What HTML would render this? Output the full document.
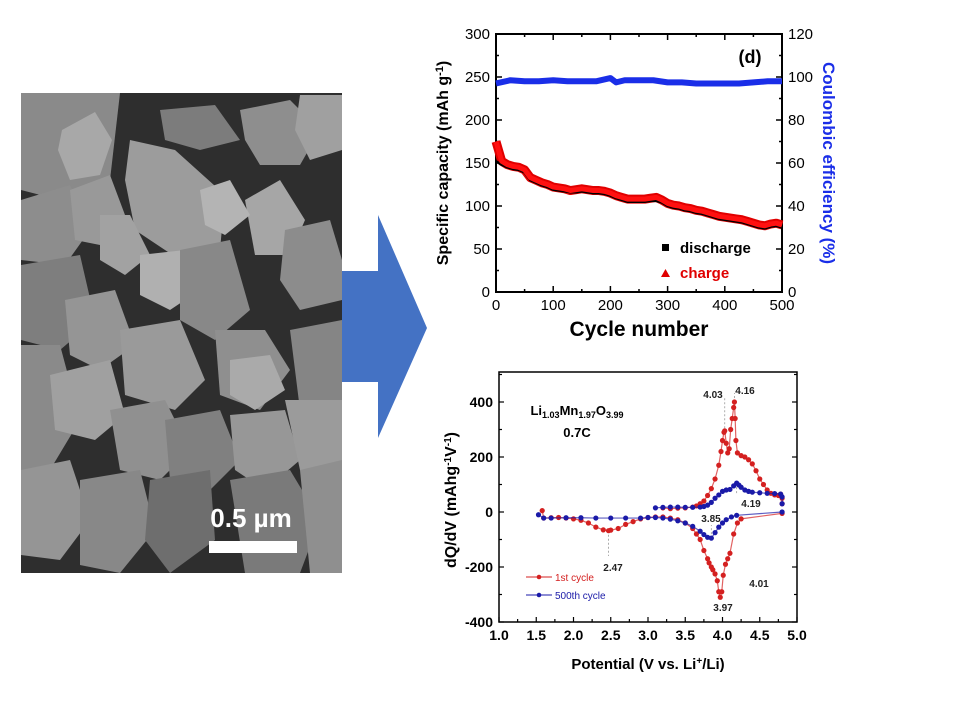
<!DOCTYPE html>
<html><head><meta charset="utf-8">
<style>
html,body{margin:0;padding:0;background:#fff;}
svg{display:block;font-family:"Liberation Sans",Arial,sans-serif;}
</style></head>
<body>
<svg id="root" width="960" height="720" viewBox="0 0 960 720">
  <rect width="960" height="720" fill="#fff"/>
  <g>
    <clipPath id="semclip"><rect x="21" y="93" width="321" height="480"/></clipPath>
    <g clip-path="url(#semclip)">
      <rect x="21" y="93" width="321" height="480" fill="#2e2e2e"/>
      <polygon points="21,93 120,93 110,180 60,200 21,190" fill="#8a8a8a"/>
      <polygon points="62,130 95,112 112,140 100,175 70,180 58,150" fill="#a8a8a8"/>
      <polygon points="130,140 175,150 225,195 220,250 180,260 135,230 125,180" fill="#9c9c9c"/>
      <polygon points="160,110 215,105 240,140 200,150 165,140" fill="#7c7c7c"/>
      <polygon points="240,110 290,100 320,130 300,165 260,165 245,140" fill="#8e8e8e"/>
      <polygon points="300,95 342,95 342,150 310,160 295,130" fill="#a0a0a0"/>
      <polygon points="21,200 70,185 90,230 65,265 21,260" fill="#8d8d8d"/>
      <polygon points="70,190 110,175 125,215 100,245 75,240" fill="#999"/>
      <polygon points="100,215 130,215 150,255 125,275 100,260" fill="#a2a2a2"/>
      <polygon points="140,255 185,250 200,290 170,310 140,295" fill="#b0b0b0"/>
      <polygon points="180,250 230,240 250,310 215,340 180,320" fill="#888"/>
      <polygon points="245,200 280,180 305,220 290,255 255,255" fill="#a6a6a6"/>
      <polygon points="285,230 330,220 342,260 342,300 300,310 280,280" fill="#8c8c8c"/>
      <polygon points="21,265 80,255 95,320 60,350 21,340" fill="#7e7e7e"/>
      <polygon points="65,300 115,290 135,345 100,370 70,355" fill="#959595"/>
      <polygon points="120,330 180,320 205,380 175,410 125,395" fill="#9a9a9a"/>
      <polygon points="215,330 265,330 290,370 260,410 220,395" fill="#8f8f8f"/>
      <polygon points="230,360 270,355 285,390 255,410 230,395" fill="#aaa"/>
      <polygon points="290,330 342,320 342,400 300,410" fill="#858585"/>
      <polygon points="21,345 60,345 80,420 50,470 21,470" fill="#8a8a8a"/>
      <polygon points="50,375 110,360 125,415 95,440 55,430" fill="#a0a0a0"/>
      <polygon points="110,410 165,400 190,450 160,480 120,470" fill="#909090"/>
      <polygon points="165,420 220,410 240,460 210,490 170,480" fill="#808080"/>
      <polygon points="230,415 285,410 300,460 265,490 235,470" fill="#979797"/>
      <polygon points="285,400 342,400 342,480 300,470" fill="#9b9b9b"/>
      <polygon points="21,470 70,460 90,520 60,560 21,555" fill="#959595"/>
      <polygon points="80,480 140,470 155,530 120,573 80,565" fill="#888"/>
      <polygon points="150,480 210,470 215,540 170,573 145,540" fill="#6e6e6e"/>
      <polygon points="230,480 290,470 320,520 300,573 245,573" fill="#7a7a7a"/>
      <polygon points="300,470 342,460 342,573 310,573" fill="#8f8f8f"/>
      <polygon points="200,190 230,180 250,215 225,235 205,225" fill="#b4b4b4"/>
    </g>
    <text x="251" y="527" text-anchor="middle" font-size="26" font-weight="bold" fill="#fff">0.5 µm</text>
    <rect x="209" y="541" width="88" height="12" fill="#fff"/>
  </g>
  <polygon points="342,271 378,271 378,215 427,328 378,438 378,382 342,382" fill="#4472C4"/>

  <g id="top"></g>
  <g id="bot"></g>
</svg>
<script>
// ---------- Top chart data ----------
const cycles = [0,10,20,30,40,50,60,70,80,90,100,110,120,130,140,150,160,170,180,190,200,210,220,230,240,250,260,270,280,290,300,310,320,330,340,350,360,370,380,390,400,410,420,430,440,450,460,470,480,490,500];
const chargeCap = [175,152,148,146,145,142,133,130,127,125,122,121,120,118,119,120,119,118,118,117,115,112,110,108,108,108,108,109,110,107,103,101,100,98,97,95,94,92,90,88,87,86,85,84,82,80,78,77,79,80,78];
const dischargeCap = [152,148,145,143,142,139,130,127,124,122,119,118,117,116,116,117,116,115,115,114,112,109,107,105,105,105,105,106,106,104,100,98,97,95,94,92,91,89,87,85,84,83,82,81,79,77,75,74,76,77,75];
const ceCycles = [0,25,50,75,100,125,150,175,200,210,225,250,275,300,325,350,375,400,425,450,475,500];
const ceValues = [97,98.5,98,98,98.5,98,98,98,99.5,97.5,98.5,98.5,98.5,97.5,97.5,97,97,97,97,97.5,98,98];
const topXTicks = [0,100,200,300,400,500];
const topYTicks = [0,50,100,150,200,250,300];
const topY2Ticks = [0,20,40,60,80,100,120];

// ---------- Bottom chart data ----------
const c1ChargeV = [3.2,3.3,3.4,3.5,3.6,3.65,3.7,3.75,3.8,3.85,3.9,3.95,3.98,4.0,4.02,4.03,4.05,4.07,4.09,4.11,4.13,4.15,4.16,4.17,4.18,4.2,4.25,4.3,4.35,4.4,4.45,4.5,4.55,4.6,4.65,4.7,4.75,4.78,4.8,4.8];
const c1ChargeQ = [15,12,14,15,18,22,30,40,60,85,120,170,220,260,290,295,250,215,230,300,340,380,400,340,260,215,205,200,190,175,150,120,100,80,68,62,60,65,50,30];
const c1DischV = [4.8,4.25,4.2,4.15,4.1,4.07,4.04,4.01,3.99,3.97,3.95,3.93,3.9,3.87,3.85,3.82,3.8,3.75,3.7,3.65,3.6,3.5,3.4,3.3,3.2,3.1,3.0,2.9,2.8,2.7,2.6,2.5,2.47,2.4,2.3,2.2,2.1,2.0,1.9,1.8,1.7,1.6,1.58];
const c1DischQ = [-5,-25,-40,-80,-150,-170,-190,-230,-290,-310,-290,-250,-225,-210,-200,-185,-170,-140,-100,-80,-60,-40,-28,-22,-18,-18,-20,-25,-35,-45,-60,-66,-68,-65,-55,-40,-30,-25,-22,-20,-21,-22,5];
const c500ChargeV = [3.1,3.2,3.3,3.4,3.5,3.6,3.7,3.75,3.8,3.85,3.9,3.95,4.0,4.05,4.1,4.15,4.19,4.22,4.25,4.3,4.35,4.4,4.5,4.6,4.7,4.78,4.8,4.8];
const c500ChargeQ = [15,17,18,18,17,17,18,20,25,35,50,62,75,80,82,95,105,98,90,80,75,72,70,68,67,65,55,30];
const c500DischV = [4.8,4.19,4.12,4.05,4.0,3.95,3.9,3.85,3.8,3.75,3.7,3.6,3.5,3.4,3.3,3.2,3.1,3.0,2.9,2.7,2.5,2.3,2.1,1.9,1.7,1.6,1.53];
const c500DischQ = [0,-12,-18,-28,-40,-55,-75,-95,-92,-82,-70,-52,-40,-32,-26,-22,-20,-20,-22,-22,-22,-22,-21,-21,-22,-22,-10];
const botXTicks = [1.0,1.5,2.0,2.5,3.0,3.5,4.0,4.5,5.0];
const botYTicks = [-400,-200,0,200,400];
const peakLabels = ["4.03","4.16","4.19","3.85","2.47","4.01","3.97"];
const peakV = [4.03,4.16,4.19,3.85,2.47,4.01,3.97];

const NS = "http://www.w3.org/2000/svg";
function mk(parent, tag, attrs, text){
  const e = document.createElementNS(NS, tag);
  for (const k in attrs) e.setAttribute(k, attrs[k]);
  if (text !== undefined) e.textContent = text;
  parent.appendChild(e);
  return e;
}

// ===== TOP CHART =====
(function(){
  const g = document.getElementById('top');
  const L=496,R=782,T=34,B=292;
  const sx = v => L + (v-0)/500*(R-L);
  const sy = v => B - v/300*(B-T);
  const sy2 = v => B - v/120*(B-T);
  const frame = mk(g,'rect',{x:L,y:T,width:R-L,height:B-T,fill:'none',stroke:'#000','stroke-width':2});
  
  
  for (let v=0; v<=500; v+=50){
    const len = v%100===0?6:3;
    mk(g,'line',{x1:sx(v),x2:sx(v),y1:B,y2:B-len,stroke:'#000','stroke-width':1.5});
    mk(g,'line',{x1:sx(v),x2:sx(v),y1:T,y2:T+len,stroke:'#000','stroke-width':1.5});
  }
  for (let v=0; v<=300; v+=25){
    const len = v%50===0?6:3;
    mk(g,'line',{x1:L,x2:L+len,y1:sy(v),y2:sy(v),stroke:'#000','stroke-width':1.5});
  }
  for (let v=0; v<=120; v+=10){
    const len = v%20===0?6:3;
    mk(g,'line',{x1:R,x2:R-len,y1:sy2(v),y2:sy2(v),stroke:'#000','stroke-width':1.5});
  }
  topXTicks.forEach(v=>{
    const t = mk(g,'text',{x:sx(v),y:B+18,'text-anchor':'middle','font-size':15,fill:'#000'},String(v));
    
    
  });
  topYTicks.forEach(v=>{
    const t = mk(g,'text',{x:L-6,y:sy(v)+5,'text-anchor':'end','font-size':15,fill:'#000'},String(v));
    
    
  });
  topY2Ticks.forEach(v=>{
    const t = mk(g,'text',{x:R+6,y:sy2(v)+5,'text-anchor':'start','font-size':15,fill:'#000'},String(v));
    
    
  });
  const pts = (xs,ys,fx,fy)=>xs.map((x,i)=>fx(x)+','+fy(ys[i])).join(' ');
  const ch = mk(g,'polyline',{points:pts(cycles,chargeCap,sx,sy),fill:'none',stroke:'#e00000','stroke-width':9,'stroke-linejoin':'round'});
  
  
  const dc = mk(g,'polyline',{points:pts(cycles,dischargeCap,sx,sy),fill:'none',stroke:'#000','stroke-width':2.5});
  
  
  const ch2 = mk(g,'polyline',{points:pts(cycles,chargeCap,sx,sy),fill:'none',stroke:'#ff1010','stroke-width':5,'stroke-linejoin':'round'});
  
  
  const ce = mk(g,'polyline',{points:pts(ceCycles,ceValues,sx,sy2),fill:'none',stroke:'#1a2ee8','stroke-width':6,'stroke-linejoin':'round'});
  
  
  const d = mk(g,'text',{x:750,y:63,'text-anchor':'middle','font-size':18,'font-weight':'bold'},'(d)');
  
  
  const sq = mk(g,'rect',{x:662,y:244,width:7,height:7,fill:'#000'});
  
  
  const lt1 = mk(g,'text',{x:680,y:253,'font-size':15,'font-weight':'bold',fill:'#000'},'discharge');
  
  
  const tri = mk(g,'polygon',{points:'661,277 665.5,269 670,277',fill:'#e00000'});
  
  
  const lt2 = mk(g,'text',{x:680,y:278,'font-size':15,'font-weight':'bold',fill:'#e00000'},'charge');
  
  
  const xt = mk(g,'text',{x:(L+R)/2,y:336,'text-anchor':'middle','font-size':21,'font-weight':'bold'},'Cycle number');
  
  
  const yt = mk(g,'text',{transform:'translate(448,163) rotate(-90)','text-anchor':'middle','font-size':16,'font-weight':'bold'});
  
  
  yt.innerHTML = 'Specific capacity (mAh g<tspan dy="-5" font-size="11">-1</tspan><tspan dy="5">)</tspan>';
  const y2 = mk(g,'text',{transform:'translate(823,163) rotate(90)','text-anchor':'middle','font-size':17,'font-weight':'bold',fill:'#1a2ee8'},'Coulombic efficiency (%)');
  
  
})();

// ===== BOTTOM CHART =====
(function(){
  const g = document.getElementById('bot');
  const L=499,R=797,T=372,B=622;
  const sx = v => L + (v-1)/4*(R-L);
  const sy = v => 512 - v*(110/400);
  const frame = mk(g,'rect',{x:L,y:T,width:R-L,height:B-T,fill:'none',stroke:'#000','stroke-width':1.5});
  
  
  for (let v=1; v<=5.001; v+=0.25){
    const major = Math.abs(v*2-Math.round(v*2))<1e-6;
    const len = major?5:3;
    mk(g,'line',{x1:sx(v),x2:sx(v),y1:B,y2:B-len,stroke:'#000','stroke-width':1.2});
  }
  for (let v=-400; v<=500; v+=100){
    const len = v%200===0?5:3;
    mk(g,'line',{x1:L,x2:L+len,y1:sy(v),y2:sy(v),stroke:'#000','stroke-width':1.2});
    mk(g,'line',{x1:R,x2:R-len,y1:sy(v),y2:sy(v),stroke:'#000','stroke-width':1.2});
  }
  botXTicks.forEach(v=>{
    const t = mk(g,'text',{x:sx(v),y:B+18,'text-anchor':'middle','font-size':14,'font-weight':'bold'},v.toFixed(1));
    
    
  });
  botYTicks.forEach(v=>{
    const t = mk(g,'text',{x:L-6,y:sy(v)+5,'text-anchor':'end','font-size':14,'font-weight':'bold'},String(v));
    
    
  });
  peakV.forEach((v,i)=>{
    const lab = peakLabels[i];
    let y1,y2;
    if (lab==="4.03"){y1=sy(290);y2=397;}
    else if (lab==="4.16"){y1=sy(400);y2=393;}
    else if (lab==="4.19"){y1=sy(105);y2=495;}
    else if (lab==="3.85"){y1=sy(-95);y2=525;}
    else if (lab==="2.47"){y1=sy(-68);y2=556;}
    else if (lab==="4.01"){y1=sy(-230);y2=574;}
    else {y1=sy(-310);y2=sy(-310)+2;}
    const ln = mk(g,'line',{x1:sx(v),x2:sx(v),y1:y1,y2:y2,stroke:'#999','stroke-width':0.8,'stroke-dasharray':'2,2'});
    
    
  });
  const labPos = {"4.03":[713,398],"4.16":[745,394],"4.19":[751,507],"3.85":[711,522],"2.47":[613,571],"4.01":[759,587],"3.97":[723,611]};
  peakLabels.forEach(lab=>{
    const p = labPos[lab];
    const t = mk(g,'text',{x:p[0],y:p[1],'text-anchor':'middle','font-size':10,'font-weight':'bold',fill:'#222'},lab);
    
    
  });
  function series(xs,ys,color,name){
    const line = mk(g,'polyline',{points:xs.map((x,i)=>sx(x)+','+sy(ys[i])).join(' '),fill:'none',stroke:color,'stroke-width':1.2,'stroke-opacity':0.7});
    
    
    xs.forEach((x,i)=>{
      const c = mk(g,'circle',{cx:sx(x),cy:sy(ys[i]),r:2.6,fill:color});
      
      
    });
  }
  series(c1ChargeV,c1ChargeQ,'#d42020','first-cycle-charge');
  series(c1DischV,c1DischQ,'#d42020','first-cycle-discharge');
  series(c500ChargeV,c500ChargeQ,'#1a1aa8','cycle500-charge');
  series(c500DischV,c500DischQ,'#1a1aa8','cycle500-discharge');
  const f = mk(g,'text',{x:577,y:415,'text-anchor':'middle','font-size':13,'font-weight':'bold'});
  
  
  f.innerHTML = 'Li<tspan dy="3" font-size="9">1.03</tspan><tspan dy="-3">Mn</tspan><tspan dy="3" font-size="9">1.97</tspan><tspan dy="-3">O</tspan><tspan dy="3" font-size="9">3.99</tspan>';
  const cr = mk(g,'text',{x:577,y:437,'text-anchor':'middle','font-size':13,'font-weight':'bold'},'0.7C');
  
  
  mk(g,'line',{x1:526,x2:552,y1:577,y2:577,stroke:'#d42020','stroke-width':1});
  const m1 = mk(g,'circle',{cx:539,cy:577,r:2.3,fill:'#d42020'});
  
  
  const l1 = mk(g,'text',{x:555,y:581,'font-size':10,fill:'#d42020'},'1st cycle');
  
  
  mk(g,'line',{x1:526,x2:552,y1:595,y2:595,stroke:'#1a1aa8','stroke-width':1});
  const m2 = mk(g,'circle',{cx:539,cy:595,r:2.3,fill:'#1a1aa8'});
  
  
  const l2 = mk(g,'text',{x:555,y:599,'font-size':10,fill:'#1a1aa8'},'500th cycle');
  
  
  const xt = mk(g,'text',{x:648,y:669,'text-anchor':'middle','font-size':15,'font-weight':'bold'});
  
  
  xt.innerHTML = 'Potential (V vs. Li<tspan dy="-5" font-size="10">+</tspan><tspan dy="5">/Li)</tspan>';
  const yt = mk(g,'text',{transform:'translate(456,500) rotate(-90)','text-anchor':'middle','font-size':16,'font-weight':'bold'});
  
  
  yt.innerHTML = 'dQ/dV (mAhg<tspan dy="-5" font-size="10">-1</tspan><tspan dy="5">V</tspan><tspan dy="-5" font-size="10">-1</tspan><tspan dy="5">)</tspan>';
})();
</script>
</body></html>
